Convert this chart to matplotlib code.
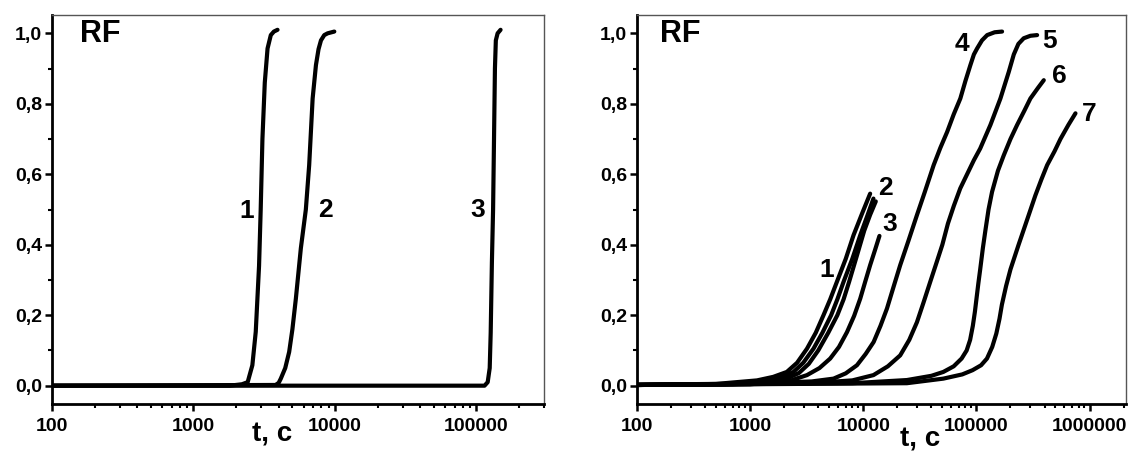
import matplotlib.pyplot as plt
from matplotlib.ticker import FixedLocator, LogLocator, NullFormatter, FuncFormatter

plt.rcParams['font.family'] = ['Liberation Sans', 'DejaVu Sans']
plt.rcParams['font.weight'] = 'bold'

# ---- left panel data: t (s), RF ----
L1_t = [100, 1800, 2200, 2415, 2606, 2754, 2906, 2985, 3070, 3190, 3337, 3519, 3700, 3925]
L1_rf = [0, 0, 0.004, 0.01, 0.058, 0.153, 0.34, 0.5, 0.70, 0.86, 0.957, 0.995, 1.005, 1.01]
L2_t = [100, 3800, 4000, 4140, 4450, 4745, 5000, 5290, 5737, 6223, 6570, 6950,
        7335, 7650, 7960, 8400, 8870, 9890]
L2_rf = [0, 0.002, 0.008, 0.02, 0.05, 0.096, 0.16, 0.247, 0.39, 0.5, 0.626, 0.815,
         0.91, 0.955, 0.98, 0.995, 1.0, 1.005]
L3_t = [100, 114000, 120000, 124000, 126000, 128500, 131000, 133000, 135000, 137000, 141000, 148000]
L3_rf = [0, 0, 0.01, 0.05, 0.15, 0.35, 0.5, 0.7, 0.9, 0.98, 1.0, 1.01]
left_curves = [(L1_t, L1_rf), (L2_t, L2_rf), (L3_t, L3_rf)]
left_labels = [("1", 2377, 0.497), ("2", 8570, 0.50), ("3", 101600, 0.50)]

# ---- right panel data ----
R1_t = [100, 500, 1150, 1600, 2110, 2600, 3180, 3800, 4450, 5100, 5850, 7000, 8200, 9800, 11500]
R1_rf = [0.003, 0.005, 0.015, 0.025, 0.039, 0.065, 0.105, 0.15, 0.2, 0.245, 0.295,
         0.36, 0.427, 0.49, 0.545]
R2_t = [100, 600, 1300, 1850, 2415, 2950, 3630, 4350, 5200, 5900, 6700, 8000, 9400, 10800, 12300]
R2_rf = [0.002, 0.004, 0.012, 0.022, 0.039, 0.065, 0.105, 0.15, 0.2, 0.245, 0.295,
         0.36, 0.427, 0.48, 0.531]
R2b_t = [100, 700, 1500, 2100, 2700, 3300, 4000, 4900, 5900, 6700, 7500, 8800, 10200, 11500, 12900]
R2b_rf = [0.002, 0.004, 0.011, 0.02, 0.036, 0.062, 0.1, 0.15, 0.2, 0.245, 0.295,
          0.37, 0.44, 0.485, 0.523]
R3_t = [100, 1000, 2300, 3180, 4100, 5100, 6100, 7180, 8300, 9400, 10400, 11500, 12700, 13900]
R3_rf = [0.002, 0.004, 0.015, 0.03, 0.05, 0.077, 0.11, 0.152, 0.198, 0.247, 0.295,
         0.342, 0.385, 0.425]
R4_t = [100, 1000, 3500, 5460, 7000, 8790, 10500, 12350, 14200, 16200, 18500, 21200,
        25000, 29800, 35000, 41900, 48000, 55100, 63000, 72100, 80000, 88500, 95000,
        101400, 112000, 124500, 145000, 168600]
R4_rf = [0.002, 0.006, 0.012, 0.02, 0.035, 0.058, 0.09, 0.124, 0.17, 0.219, 0.28, 0.342,
         0.41, 0.484, 0.55, 0.626, 0.675, 0.72, 0.77, 0.815, 0.865, 0.91, 0.94,
         0.957, 0.98, 0.995, 1.003, 1.005]
R5_t = [100, 3000, 8000, 12300, 16500, 21200, 25500, 29800, 34000, 39100, 44500, 50000,
        56000, 63100, 72000, 82700, 95000, 108000, 133000, 163000, 193000, 214000,
        235000, 262000, 300000, 344000]
R5_rf = [0.002, 0.006, 0.015, 0.03, 0.055, 0.086, 0.13, 0.18, 0.235, 0.295, 0.35, 0.40,
         0.46, 0.51, 0.56, 0.60, 0.64, 0.673, 0.74, 0.815, 0.89, 0.94,
         0.97, 0.986, 0.993, 0.995]
R6_t = [100, 8000, 24300, 40000, 51000, 63000, 74000, 82000, 88000, 93000, 97000, 100000,
        104000, 108000, 114000, 120000, 128000, 137500, 155000, 174600, 200000,
        229000, 265000, 300000, 350000, 394000]
R6_rf = [0.002, 0.007, 0.016, 0.028, 0.039, 0.055, 0.077, 0.10, 0.13, 0.17, 0.21, 0.245,
         0.29, 0.33, 0.39, 0.44, 0.50, 0.55, 0.61, 0.654, 0.70,
         0.74, 0.78, 0.815, 0.845, 0.867]
R7_t = [100, 24300, 51000, 75000, 92500, 110000, 124000, 138000, 150000, 160000, 168000,
        183000, 200000, 236000, 280000, 332000, 375000, 422000, 490000, 553000,
        650000, 751000]
R7_rf = [0.002, 0.007, 0.02, 0.032, 0.044, 0.058, 0.077, 0.11, 0.148, 0.19, 0.23,
         0.283, 0.33, 0.40, 0.47, 0.54, 0.585, 0.626, 0.665, 0.70,
         0.74, 0.773]
right_curves = [(R1_t, R1_rf), (R2_t, R2_rf), (R2b_t, R2b_rf), (R3_t, R3_rf),
                (R4_t, R4_rf), (R5_t, R5_rf), (R6_t, R6_rf), (R7_t, R7_rf)]
right_labels = [("1", 4710, 0.327), ("2", 15800, 0.562), ("3", 17100, 0.46),
                ("4", 75200, 0.97), ("5", 443000, 0.977), ("6", 543000, 0.878),
                ("7", 1000000, 0.77)]

x_major_left = [100, 1000, 10000, 100000]
x_major_right = [100, 1000, 10000, 100000, 1000000]
y_major = [0.0, 0.2, 0.4, 0.6, 0.8, 1.0]

W, H = 1133, 455
fig = plt.figure(figsize=(W / 100, H / 100), dpi=100)
ax1 = fig.add_axes([52 / W, 51 / H, 492 / W, 389 / H])
ax2 = fig.add_axes([637 / W, 51 / H, 489 / W, 389 / H])

comma = FuncFormatter(lambda v, p: ("%.1f" % v).replace(".", ","))


def style(ax, xmax, majors):
    ax.set_xscale("log")
    ax.set_xlim(100, xmax)
    ax.set_ylim(-0.052, 1.052)
    ax.xaxis.set_major_locator(FixedLocator(majors))
    ax.xaxis.set_major_formatter(FuncFormatter(lambda v, p: "%d" % round(v)))
    ax.xaxis.set_minor_locator(LogLocator(base=10, subs=range(2, 10)))
    ax.xaxis.set_minor_formatter(NullFormatter())
    ax.yaxis.set_major_locator(FixedLocator(y_major))
    ax.yaxis.set_minor_locator(FixedLocator([0.1, 0.3, 0.5, 0.7, 0.9]))
    ax.yaxis.set_major_formatter(comma)
    for s in ["left", "bottom"]:
        ax.spines[s].set_linewidth(2.0)
        ax.spines[s].set_color("black")
    for s in ["top", "right"]:
        ax.spines[s].set_linewidth(1.0)
        ax.spines[s].set_color("#555555")
    ax.tick_params(which="major", direction="out", length=5, width=1.8,
                   labelsize=14, pad=2)
    ax.tick_params(which="minor", direction="out", length=3, width=1.5)
    ax.tick_params(axis="x", which="major", pad=5)
    for lab in ax.get_xticklabels() + ax.get_yticklabels():
        lab.set_fontweight("bold")


style(ax1, 3.0e5, x_major_left)
style(ax2, 2.1e6, x_major_right)

for t, rf in left_curves:
    ax1.plot(t, rf, color="black", lw=3.0, solid_capstyle="round",
             solid_joinstyle="round")
for t, rf in right_curves:
    ax2.plot(t, rf, color="black", lw=3.0, solid_capstyle="round",
             solid_joinstyle="round")

for txt, x, y in left_labels:
    ax1.text(x, y, txt, fontsize=19, fontweight="bold", ha="center", va="center")
for txt, x, y in right_labels:
    ax2.text(x, y, txt, fontsize=19, fontweight="bold", ha="center", va="center")

ax1.text(0.057, 0.951, "RF", transform=ax1.transAxes, fontsize=22,
         fontweight="bold", ha="left", va="center")
ax2.text(0.047, 0.951, "RF", transform=ax2.transAxes, fontsize=22,
         fontweight="bold", ha="left", va="center")

ax1.text(0.447, -0.078, "t, c", transform=ax1.transAxes, fontsize=20,
         fontweight="bold", ha="center", va="center")
ax2.text(0.58, -0.125, "t, c", transform=ax2.transAxes, fontsize=20,
         fontweight="bold", ha="center", va="bottom")

fig.savefig("out.png", dpi=100)
